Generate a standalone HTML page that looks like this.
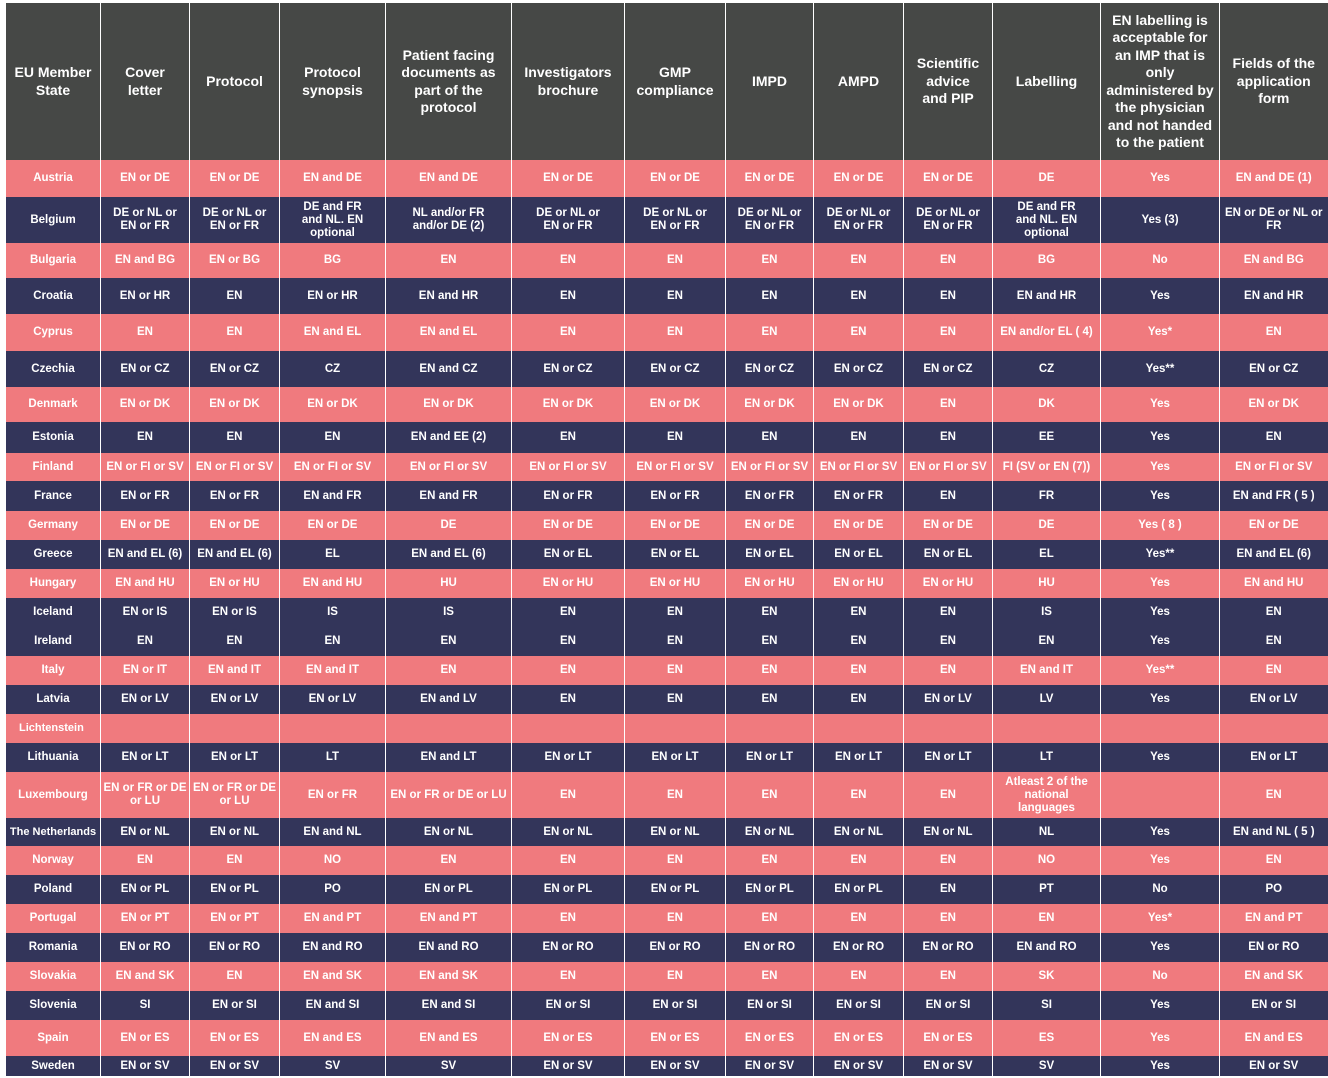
<!DOCTYPE html>
<html><head><meta charset="utf-8"><style>
body{margin:0;background:#fff;width:1328px;height:1078px;overflow:hidden;font-family:"Liberation Sans",sans-serif;}
table{position:absolute;left:5px;top:3px;border-collapse:collapse;table-layout:fixed;}
td{color:#fff;font-weight:bold;font-size:11.5px;text-align:center;vertical-align:middle;padding:0 6px;line-height:13px;border-left:1px solid rgba(255,255,255,0.25);overflow:hidden;}
tr.h td{background:#464846;font-size:14px;line-height:17.5px;height:157px;padding:0 8px;}
tr.p td{background:#f07a7e;}
tr.n td{background:#33355a;}
</style></head><body>
<table>
<colgroup><col style="width:95px"><col style="width:89px"><col style="width:90px"><col style="width:106px"><col style="width:126px"><col style="width:113px"><col style="width:101px"><col style="width:88px"><col style="width:90px"><col style="width:89px"><col style="width:108px"><col style="width:119px"><col style="width:108px"></colgroup>
<tr class="h"><td>EU Member State</td><td style="padding:0 20px">Cover letter</td><td>Protocol</td><td>Protocol synopsis</td><td style="padding:0 12px">Patient facing documents as part of the protocol</td><td>Investigators brochure</td><td>GMP compliance</td><td>IMPD</td><td>AMPD</td><td>Scientific advice and PIP</td><td>Labelling</td><td style="padding:0 2px">EN labelling is acceptable for an IMP that is only administered by the physician and not handed to the patient</td><td>Fields of the application form</td></tr>
<tr class="p" style="height:37px"><td>Austria</td><td>EN or DE</td><td>EN or DE</td><td>EN and DE</td><td>EN and DE</td><td>EN or DE</td><td>EN or DE</td><td>EN or DE</td><td>EN or DE</td><td>EN or DE</td><td>DE</td><td>Yes</td><td>EN and DE (1)</td></tr>
<tr class="n" style="height:46px"><td>Belgium</td><td>DE or NL or EN or FR</td><td>DE or NL or EN or FR</td><td style="padding:0 14px">DE and FR and NL. EN optional</td><td style="padding:0 22px">NL and/or FR and/or DE (2)</td><td style="padding:0 22px">DE or NL or EN or FR</td><td style="padding:0 16px">DE or NL or EN or FR</td><td>DE or NL or EN or FR</td><td>DE or NL or EN or FR</td><td>DE or NL or EN or FR</td><td style="padding:0 18px">DE and FR and NL. EN optional</td><td>Yes (3)</td><td style="padding:0 2px">EN or DE or NL or FR</td></tr>
<tr class="p" style="height:35px"><td>Bulgaria</td><td>EN and BG</td><td>EN or BG</td><td>BG</td><td>EN</td><td>EN</td><td>EN</td><td>EN</td><td>EN</td><td>EN</td><td>BG</td><td>No</td><td>EN and BG</td></tr>
<tr class="n" style="height:36px"><td>Croatia</td><td>EN or HR</td><td>EN</td><td>EN or HR</td><td>EN and HR</td><td>EN</td><td>EN</td><td>EN</td><td>EN</td><td>EN</td><td>EN and HR</td><td>Yes</td><td>EN and HR</td></tr>
<tr class="p" style="height:37px"><td>Cyprus</td><td>EN</td><td>EN</td><td>EN and EL</td><td>EN and EL</td><td>EN</td><td>EN</td><td>EN</td><td>EN</td><td>EN</td><td style="padding:0">EN and/or EL ( 4)</td><td>Yes*</td><td>EN</td></tr>
<tr class="n" style="height:36px"><td>Czechia</td><td>EN or CZ</td><td>EN or CZ</td><td>CZ</td><td>EN and CZ</td><td>EN or CZ</td><td>EN or CZ</td><td>EN or CZ</td><td>EN or CZ</td><td>EN or CZ</td><td>CZ</td><td>Yes**</td><td>EN or CZ</td></tr>
<tr class="p" style="height:35px"><td>Denmark</td><td>EN or DK</td><td>EN or DK</td><td>EN or DK</td><td>EN or DK</td><td>EN or DK</td><td>EN or DK</td><td>EN or DK</td><td>EN or DK</td><td>EN</td><td>DK</td><td>Yes</td><td>EN or DK</td></tr>
<tr class="n" style="height:31px"><td>Estonia</td><td>EN</td><td>EN</td><td>EN</td><td>EN and EE (2)</td><td>EN</td><td>EN</td><td>EN</td><td>EN</td><td>EN</td><td>EE</td><td>Yes</td><td>EN</td></tr>
<tr class="p" style="height:28px"><td>Finland</td><td style="padding:0">EN or FI or SV</td><td style="padding:0">EN or FI or SV</td><td>EN or FI or SV</td><td>EN or FI or SV</td><td>EN or FI or SV</td><td>EN or FI or SV</td><td style="padding:0">EN or FI or SV</td><td style="padding:0">EN or FI or SV</td><td style="padding:0">EN or FI or SV</td><td style="padding:0">FI (SV or EN (7))</td><td>Yes</td><td>EN or FI or SV</td></tr>
<tr class="n" style="height:30px"><td>France</td><td>EN or FR</td><td>EN or FR</td><td>EN and FR</td><td>EN and FR</td><td>EN or FR</td><td>EN or FR</td><td>EN or FR</td><td>EN or FR</td><td>EN</td><td>FR</td><td>Yes</td><td style="padding:0">EN and FR ( 5 )</td></tr>
<tr class="p" style="height:29px"><td>Germany</td><td>EN or DE</td><td>EN or DE</td><td>EN or DE</td><td>DE</td><td>EN or DE</td><td>EN or DE</td><td>EN or DE</td><td>EN or DE</td><td>EN or DE</td><td>DE</td><td>Yes ( 8 )</td><td>EN or DE</td></tr>
<tr class="n" style="height:29px"><td>Greece</td><td style="padding:0">EN and EL (6)</td><td style="padding:0">EN and EL (6)</td><td>EL</td><td>EN and EL (6)</td><td>EN or EL</td><td>EN or EL</td><td>EN or EL</td><td>EN or EL</td><td>EN or EL</td><td>EL</td><td>Yes**</td><td style="padding:0">EN and EL (6)</td></tr>
<tr class="p" style="height:29px"><td>Hungary</td><td>EN and HU</td><td>EN or HU</td><td>EN and HU</td><td>HU</td><td>EN or HU</td><td>EN or HU</td><td>EN or HU</td><td>EN or HU</td><td>EN or HU</td><td>HU</td><td>Yes</td><td>EN and HU</td></tr>
<tr class="n" style="height:29px"><td>Iceland</td><td>EN or IS</td><td>EN or IS</td><td>IS</td><td>IS</td><td>EN</td><td>EN</td><td>EN</td><td>EN</td><td>EN</td><td>IS</td><td>Yes</td><td>EN</td></tr>
<tr class="n" style="height:29px"><td>Ireland</td><td>EN</td><td>EN</td><td>EN</td><td>EN</td><td>EN</td><td>EN</td><td>EN</td><td>EN</td><td>EN</td><td>EN</td><td>Yes</td><td>EN</td></tr>
<tr class="p" style="height:29px"><td>Italy</td><td>EN or IT</td><td>EN and IT</td><td>EN and IT</td><td>EN</td><td>EN</td><td>EN</td><td>EN</td><td>EN</td><td>EN</td><td>EN and IT</td><td>Yes**</td><td>EN</td></tr>
<tr class="n" style="height:29px"><td>Latvia</td><td>EN or LV</td><td>EN or LV</td><td>EN or LV</td><td>EN and LV</td><td>EN</td><td>EN</td><td>EN</td><td>EN</td><td>EN or LV</td><td>LV</td><td>Yes</td><td>EN or LV</td></tr>
<tr class="p" style="height:29px"><td style="text-align:left;font-size:11px;padding:0 0 0 13px">Lichtenstein</td><td></td><td></td><td></td><td></td><td></td><td></td><td></td><td></td><td></td><td></td><td></td><td></td></tr>
<tr class="n" style="height:29px"><td>Lithuania</td><td>EN or LT</td><td>EN or LT</td><td>LT</td><td>EN and LT</td><td>EN or LT</td><td>EN or LT</td><td>EN or LT</td><td>EN or LT</td><td>EN or LT</td><td>LT</td><td>Yes</td><td>EN or LT</td></tr>
<tr class="p" style="height:46px"><td>Luxembourg</td><td style="padding:0">EN or FR or DE or LU</td><td style="padding:0">EN or FR or DE or LU</td><td>EN or FR</td><td style="padding:0">EN or FR or DE or LU</td><td>EN</td><td>EN</td><td>EN</td><td>EN</td><td>EN</td><td>Atleast 2 of the national languages</td><td></td><td>EN</td></tr>
<tr class="n" style="height:28px"><td style="font-size:11px;padding:0">The Netherlands</td><td>EN or NL</td><td>EN or NL</td><td>EN and NL</td><td>EN or NL</td><td>EN or NL</td><td>EN or NL</td><td>EN or NL</td><td>EN or NL</td><td>EN or NL</td><td>NL</td><td>Yes</td><td style="padding:0">EN and NL ( 5 )</td></tr>
<tr class="p" style="height:29px"><td>Norway</td><td>EN</td><td>EN</td><td>NO</td><td>EN</td><td>EN</td><td>EN</td><td>EN</td><td>EN</td><td>EN</td><td>NO</td><td>Yes</td><td>EN</td></tr>
<tr class="n" style="height:29px"><td>Poland</td><td>EN or PL</td><td>EN or PL</td><td>PO</td><td>EN or PL</td><td>EN or PL</td><td>EN or PL</td><td>EN or PL</td><td>EN or PL</td><td>EN</td><td>PT</td><td>No</td><td>PO</td></tr>
<tr class="p" style="height:29px"><td>Portugal</td><td>EN or PT</td><td>EN or PT</td><td>EN and PT</td><td>EN and PT</td><td>EN</td><td>EN</td><td>EN</td><td>EN</td><td>EN</td><td>EN</td><td>Yes*</td><td>EN and PT</td></tr>
<tr class="n" style="height:29px"><td>Romania</td><td>EN or RO</td><td>EN or RO</td><td>EN and RO</td><td>EN and RO</td><td>EN or RO</td><td>EN or RO</td><td>EN or RO</td><td>EN or RO</td><td>EN or RO</td><td>EN and RO</td><td>Yes</td><td>EN or RO</td></tr>
<tr class="p" style="height:29px"><td>Slovakia</td><td>EN and SK</td><td>EN</td><td>EN and SK</td><td>EN and SK</td><td>EN</td><td>EN</td><td>EN</td><td>EN</td><td>EN</td><td>SK</td><td>No</td><td>EN and SK</td></tr>
<tr class="n" style="height:29px"><td>Slovenia</td><td>SI</td><td>EN or SI</td><td>EN and SI</td><td>EN and SI</td><td>EN or SI</td><td>EN or SI</td><td>EN or SI</td><td>EN or SI</td><td>EN or SI</td><td>SI</td><td>Yes</td><td>EN or SI</td></tr>
<tr class="p" style="height:36px"><td>Spain</td><td>EN or ES</td><td>EN or ES</td><td>EN and ES</td><td>EN and ES</td><td>EN or ES</td><td>EN or ES</td><td>EN or ES</td><td>EN or ES</td><td>EN or ES</td><td>ES</td><td>Yes</td><td>EN and ES</td></tr>
<tr class="n" style="height:20px"><td>Sweden</td><td>EN or SV</td><td>EN or SV</td><td>SV</td><td>SV</td><td>EN or SV</td><td>EN or SV</td><td>EN or SV</td><td>EN or SV</td><td>EN or SV</td><td>SV</td><td>Yes</td><td>EN or SV</td></tr>
</table>
</body></html>
